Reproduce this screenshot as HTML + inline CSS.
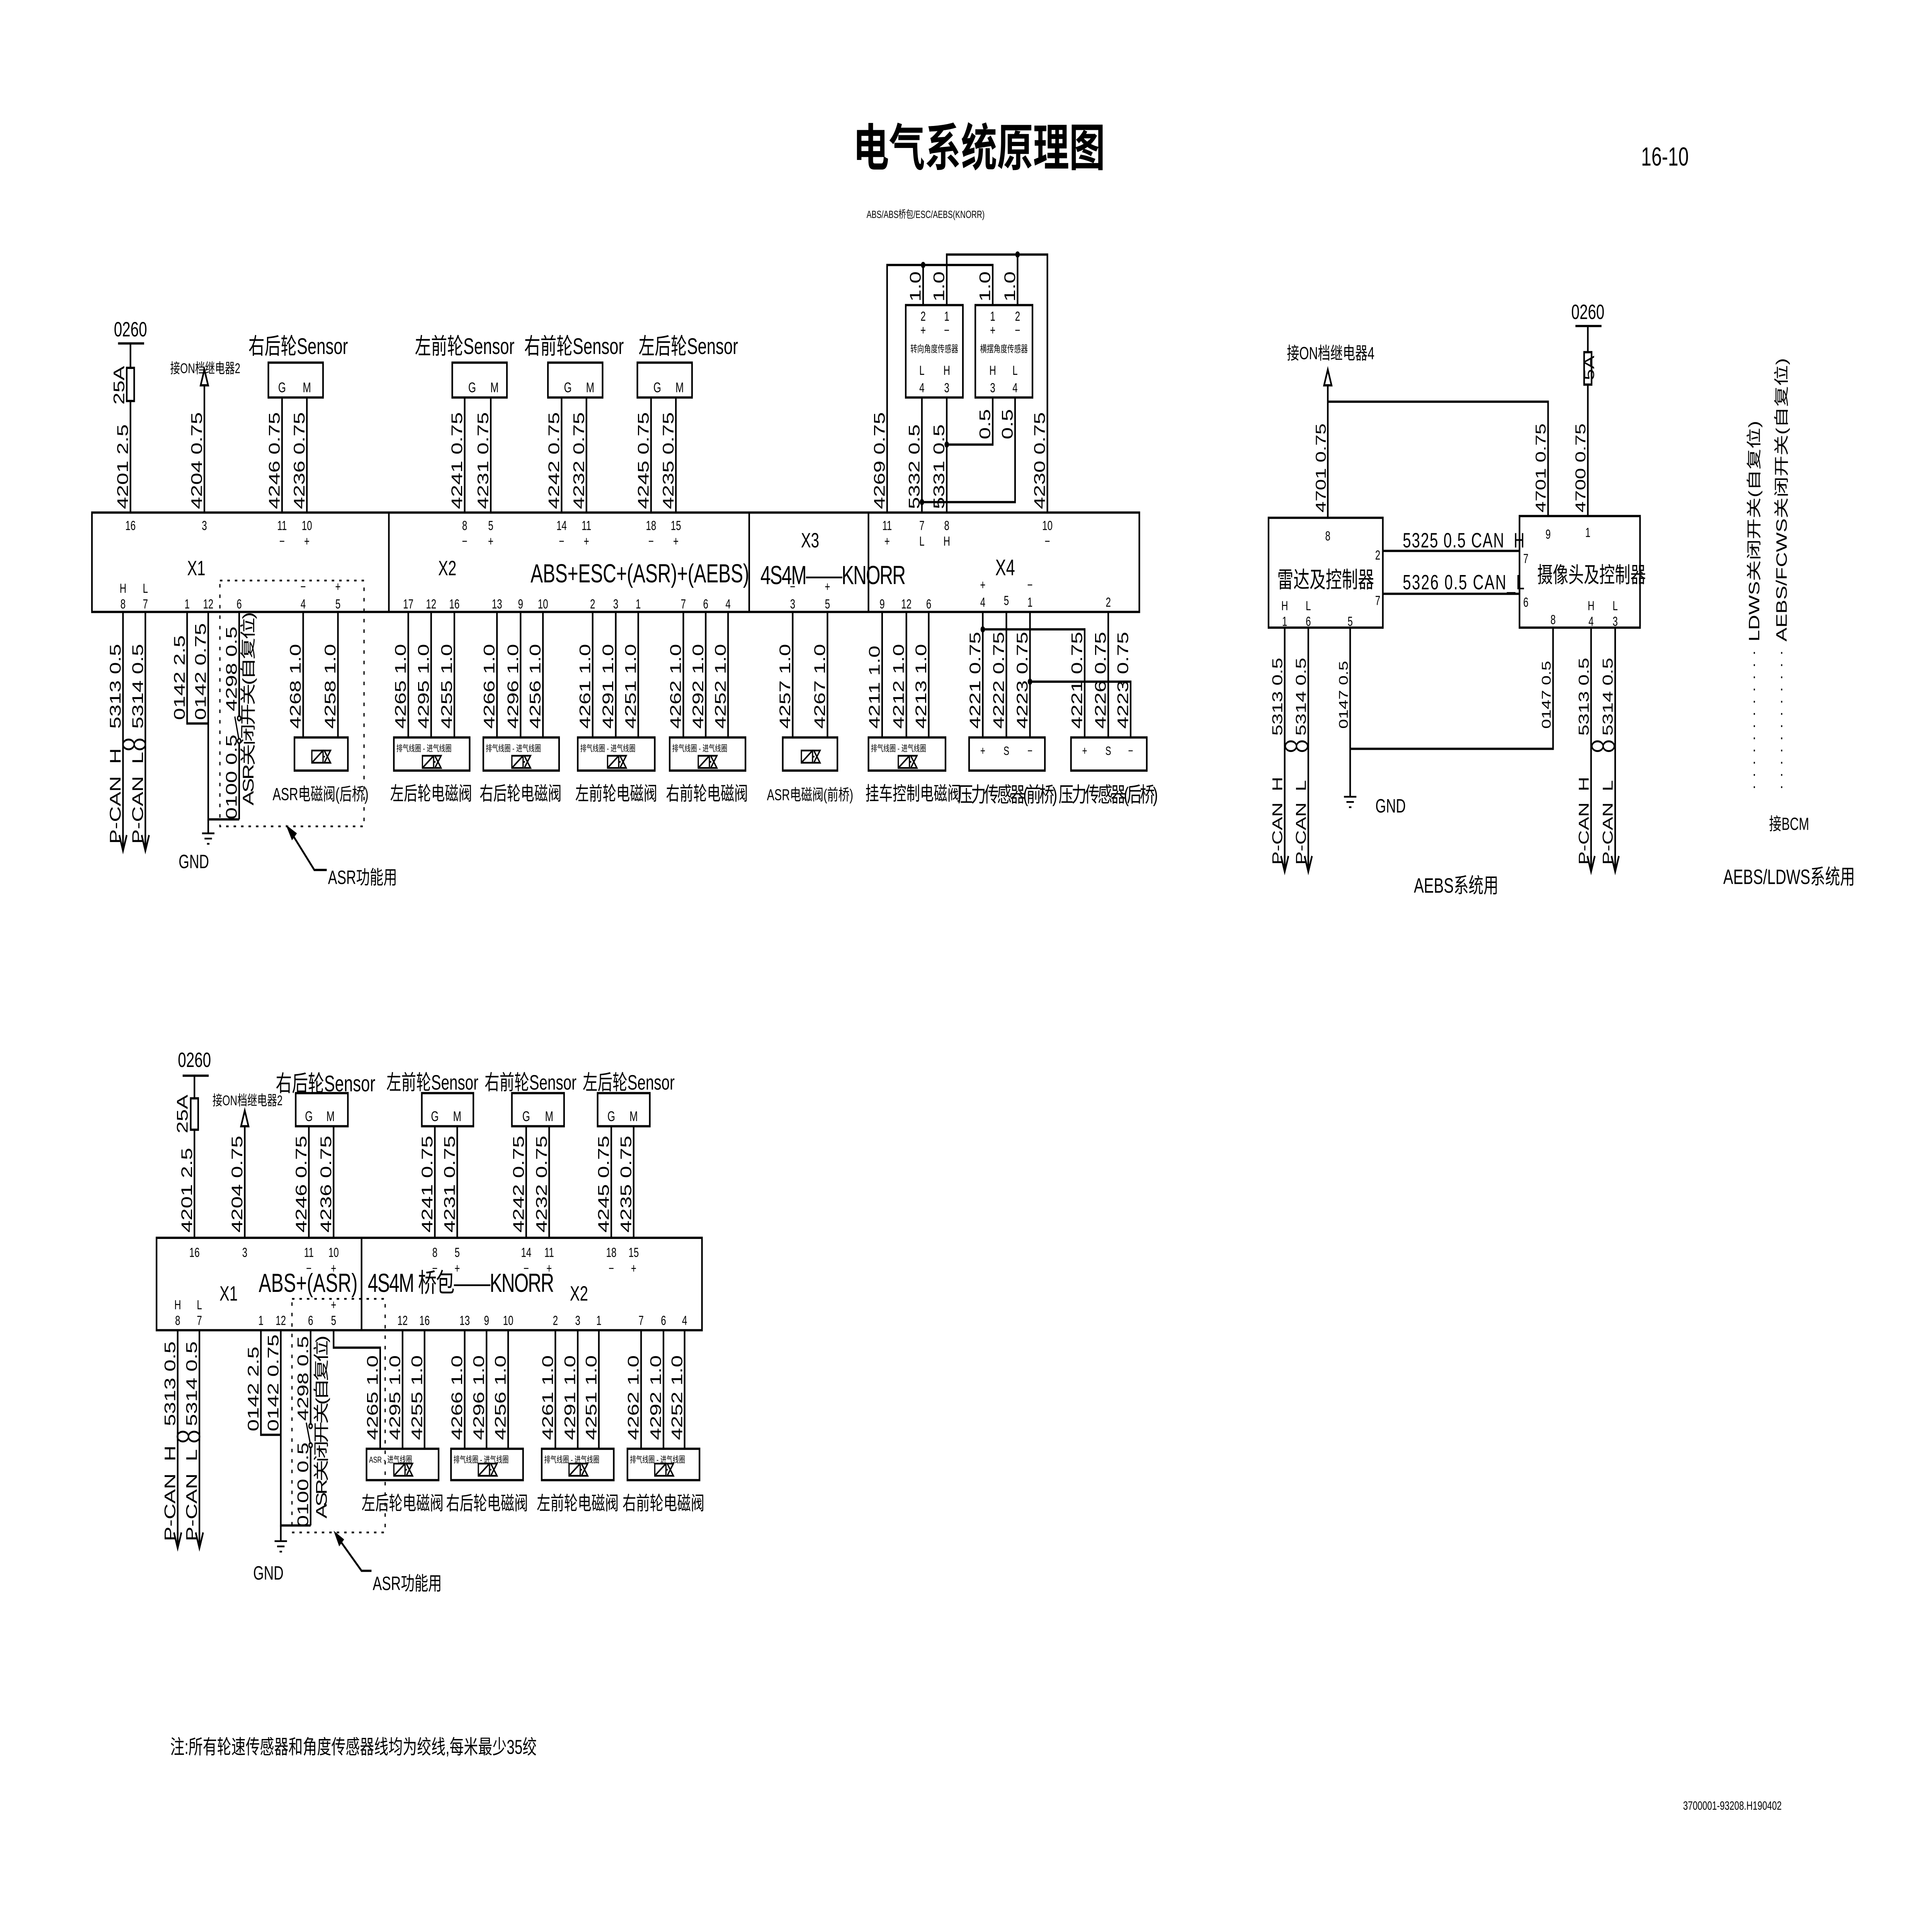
<!DOCTYPE html>
<html><head><meta charset="utf-8"><style>
html,body{margin:0;padding:0;background:#fff;overflow:hidden}
svg{display:block;position:absolute;left:0;top:0;width:100vw;height:100vh}
text{font-family:"Liberation Sans","Noto Sans CJK SC",sans-serif;fill:#000}
.w{font-size:12.5px}
.p{font-size:7.5px;text-anchor:middle}
.s{font-size:13px;text-anchor:middle}
.c{text-anchor:middle}
.t5{font-size:5px}
</style></head><body>
<svg xmlns="http://www.w3.org/2000/svg" viewBox="0 0 1555 1099" preserveAspectRatio="none">
<defs>
<g id="vg"><rect x="-7" y="-3.5" width="9" height="7" fill="none" stroke="#000" stroke-width="1"/><line x1="-7" y1="3.5" x2="2" y2="-3.5" stroke="#000" stroke-width="1"/><path d="M3,-3.5 L8,-3.5 L3,3.5 L8,3.5 Z" fill="none" stroke="#000" stroke-width="1"/><line x1="2" y1="0" x2="3.5" y2="0" stroke="#000"/></g>
<g id="gnd"><line x1="-5" y1="0" x2="5" y2="0"/><line x1="-3" y1="3" x2="3" y2="3"/><line x1="-1" y1="6" x2="1" y2="6"/></g>
<g id="ad"><path d="M-3,-9 L0,0 L3,-9 M0,0 L0,-9" fill="none"/></g>
<g id="au"><path d="M-3,9 L0,0 L3,9 Z" fill="#fff"/></g>
<g id="tw"><ellipse cx="-4.5" cy="0" rx="4.5" ry="2.8" fill="none"/><ellipse cx="4.5" cy="0" rx="4.5" ry="2.8" fill="none"/></g>
</defs>
<g stroke="#000" stroke-width="1.3" fill="none">
<rect x="74" y="294" width="843" height="57"/>
<line x1="313" y1="294" x2="313" y2="351"/><line x1="603" y1="294" x2="603" y2="351"/><line x1="699" y1="294" x2="699" y2="351"/>
<line x1="95" y1="197" x2="116" y2="197"/><line x1="105" y1="197" x2="105" y2="294"/><rect x="102" y="211" width="6" height="19" fill="#fff"/>
<line x1="164.5" y1="212" x2="164.5" y2="294"/><use href="#au" x="164.5" y="212"/>
<rect x="216" y="208" width="44" height="20"/><line x1="227" y1="228" x2="227" y2="294"/><line x1="247" y1="228" x2="247" y2="294"/>
<rect x="364" y="208" width="44" height="20"/><line x1="374" y1="228" x2="374" y2="294"/><line x1="395" y1="228" x2="395" y2="294"/>
<rect x="441" y="208" width="44" height="20"/><line x1="452" y1="228" x2="452" y2="294"/><line x1="472" y1="228" x2="472" y2="294"/>
<rect x="513" y="208" width="44" height="20"/><line x1="524" y1="228" x2="524" y2="294"/><line x1="544" y1="228" x2="544" y2="294"/>
<polyline points="714,294 714,152 799,152 799,175"/><line x1="743" y1="152" x2="743" y2="175"/>
<polyline points="762,175 762,146 843,146 843,294"/><line x1="819" y1="146" x2="819" y2="175"/>
<rect x="729" y="175" width="46" height="53"/><rect x="785" y="175" width="46" height="53"/>
<line x1="742" y1="228" x2="742" y2="294"/><line x1="762" y1="228" x2="762" y2="294"/>
<polyline points="742,288 817,288 817,228"/><polyline points="762,255 799,255 799,228"/>
<line x1="99" y1="351" x2="99" y2="488"/><line x1="117" y1="351" x2="117" y2="488"/>
<use href="#ad" x="99" y="488"/><use href="#ad" x="117" y="488"/><use href="#tw" x="108" y="427" stroke-width="1.1"/>
<polyline points="150.6,351 150.6,415 167.6,415"/><polyline points="167.6,351 167.6,470 192.5,470"/>
<line x1="167.6" y1="470" x2="167.6" y2="478"/><use href="#gnd" x="167.6" y="478" stroke-width="1"/>
<line x1="192.5" y1="351" x2="192.5" y2="411"/><line x1="192.5" y1="425" x2="192.5" y2="470"/><line x1="192.5" y1="425" x2="189" y2="411" stroke-width="1"/>
<rect x="177" y="333" width="116" height="141" stroke-dasharray="2,4" stroke-width="1"/>
<line x1="244" y1="351" x2="244" y2="423"/><line x1="272" y1="351" x2="272" y2="423"/><rect x="237" y="423" width="43" height="19"/>
<line x1="328.6" y1="351" x2="328.6" y2="423"/><line x1="347" y1="351" x2="347" y2="423"/><line x1="365.7" y1="351" x2="365.7" y2="423"/><rect x="317" y="423" width="61" height="19"/>
<line x1="400" y1="351" x2="400" y2="423"/><line x1="419" y1="351" x2="419" y2="423"/><line x1="437" y1="351" x2="437" y2="423"/><rect x="389" y="423" width="61" height="19"/>
<line x1="477" y1="351" x2="477" y2="423"/><line x1="495.6" y1="351" x2="495.6" y2="423"/><line x1="513.7" y1="351" x2="513.7" y2="423"/><rect x="465" y="423" width="62" height="19"/>
<line x1="550" y1="351" x2="550" y2="423"/><line x1="568" y1="351" x2="568" y2="423"/><line x1="586" y1="351" x2="586" y2="423"/><rect x="539" y="423" width="61" height="19"/>
<line x1="638" y1="351" x2="638" y2="423"/><line x1="666" y1="351" x2="666" y2="423"/><rect x="630" y="423" width="44" height="19"/>
<line x1="710" y1="351" x2="710" y2="423"/><line x1="729.5" y1="351" x2="729.5" y2="423"/><line x1="747.5" y1="351" x2="747.5" y2="423"/><rect x="699" y="423" width="62" height="19"/>
<line x1="791" y1="351" x2="791" y2="423"/><line x1="810" y1="351" x2="810" y2="423"/><line x1="829" y1="351" x2="829" y2="423"/><line x1="892" y1="351" x2="892" y2="423"/>
<polyline points="791,361 873,361 873,423"/><polyline points="829,391 910,391 910,423"/>
<rect x="780" y="423" width="61" height="19"/><rect x="862" y="423" width="61" height="19"/>
<polyline points="263,499 253,499 233,476"/>
<rect x="1021" y="297" width="92" height="63"/><rect x="1223" y="296" width="97" height="64"/>
<line x1="1113" y1="316" x2="1223" y2="316"/><line x1="1113" y1="340.6" x2="1223" y2="340.6"/>
<line x1="1068.7" y1="212" x2="1068.7" y2="297"/><use href="#au" x="1068.7" y="212"/>
<polyline points="1068.7,230.4 1246,230.4 1246,296"/>
<line x1="1268" y1="187" x2="1289" y2="187"/><line x1="1278" y1="187" x2="1278" y2="296"/><rect x="1275" y="202" width="6" height="18.6" fill="#fff"/>
<line x1="1034" y1="360" x2="1034" y2="500"/><line x1="1053" y1="360" x2="1053" y2="500"/><use href="#ad" x="1034" y="500"/><use href="#ad" x="1053" y="500"/><use href="#tw" x="1043.5" y="428" stroke-width="1.1"/>
<line x1="1280.6" y1="360" x2="1280.6" y2="500"/><line x1="1300" y1="360" x2="1300" y2="500"/><use href="#ad" x="1280.6" y="500"/><use href="#ad" x="1300" y="500"/><use href="#tw" x="1290.3" y="428" stroke-width="1.1"/>
<polyline points="1086.7,360 1086.7,457"/><polyline points="1086.7,429.5 1250,429.5 1250,360"/><use href="#gnd" x="1086.7" y="457" stroke-width="1"/>
<line x1="1412" y1="374" x2="1412" y2="458" stroke-dasharray="1,6" stroke-width="1"/><line x1="1434" y1="374" x2="1434" y2="458" stroke-dasharray="1,6" stroke-width="1"/>
<rect x="126" y="710" width="439" height="53"/><line x1="291" y1="710" x2="291" y2="763"/>
<line x1="147" y1="617" x2="168" y2="617"/><line x1="156.5" y1="617" x2="156.5" y2="710"/><rect x="153.5" y="630" width="6" height="18" fill="#fff"/>
<line x1="197" y1="637" x2="197" y2="710"/><use href="#au" x="197" y="637"/>
<rect x="238" y="627" width="42" height="19"/><line x1="248.6" y1="646" x2="248.6" y2="710"/><line x1="268.5" y1="646" x2="268.5" y2="710"/>
<rect x="339.5" y="627" width="41.5" height="19"/><line x1="350" y1="646" x2="350" y2="710"/><line x1="368" y1="646" x2="368" y2="710"/>
<rect x="412" y="627" width="42" height="19"/><line x1="423.5" y1="646" x2="423.5" y2="710"/><line x1="442" y1="646" x2="442" y2="710"/>
<rect x="481" y="627" width="42" height="19"/><line x1="492" y1="646" x2="492" y2="710"/><line x1="510" y1="646" x2="510" y2="710"/>
<line x1="143" y1="763" x2="143" y2="888"/><line x1="160.5" y1="763" x2="160.5" y2="888"/><use href="#ad" x="143" y="888"/><use href="#ad" x="160.5" y="888"/><use href="#tw" x="151.7" y="824" stroke-width="1.1"/>
<polyline points="210,763 210,823 226,823"/><polyline points="226,763 226,875 250,875"/><line x1="226" y1="875" x2="226" y2="884"/><use href="#gnd" x="226" y="884" stroke-width="1"/>
<line x1="250" y1="763" x2="250" y2="818"/><line x1="250" y1="829" x2="250" y2="875"/><line x1="250" y1="829" x2="246.5" y2="816" stroke-width="1"/>
<rect x="235" y="745" width="75" height="134" stroke-dasharray="2,4" stroke-width="1"/>
<polyline points="268.5,763 268.5,773 306,773 306,831"/>
<line x1="324" y1="763" x2="324" y2="831"/><line x1="341.7" y1="763" x2="341.7" y2="831"/><rect x="295" y="831" width="58" height="18"/>
<line x1="374" y1="763" x2="374" y2="831"/><line x1="391.6" y1="763" x2="391.6" y2="831"/><line x1="409" y1="763" x2="409" y2="831"/><rect x="363" y="831" width="58" height="18"/>
<line x1="447" y1="763" x2="447" y2="831"/><line x1="465" y1="763" x2="465" y2="831"/><line x1="482" y1="763" x2="482" y2="831"/><rect x="436" y="831" width="58" height="18"/>
<line x1="516" y1="763" x2="516" y2="831"/><line x1="534" y1="763" x2="534" y2="831"/><line x1="551" y1="763" x2="551" y2="831"/><rect x="505" y="831" width="58" height="18"/>
<polyline points="299,901 291,901 272,882"/>
</g>
<g fill="#000">
<circle cx="743" cy="152" r="1.8"/><circle cx="819" cy="146" r="1.8"/><circle cx="742" cy="288" r="1.8"/><circle cx="762" cy="255" r="1.8"/>
<circle cx="791" cy="361" r="1.8"/><circle cx="829" cy="391" r="1.8"/>
<circle cx="192.5" cy="412" r="1.3" fill="#fff" stroke="#000"/><circle cx="192.5" cy="425" r="1.3" fill="#fff" stroke="#000"/>
<circle cx="250" cy="818" r="1.3" fill="#fff" stroke="#000"/><circle cx="250" cy="829" r="1.3" fill="#fff" stroke="#000"/>
<path d="M230,473 L239,478 L235,482 Z"/><path d="M268.5,878 L277,883 L273,887 Z"/>
</g>
<g stroke="#000">
<use href="#vg" x="258" y="434"/><use href="#vg" x="347" y="437"/><use href="#vg" x="419" y="437"/><use href="#vg" x="496" y="437"/><use href="#vg" x="569" y="437"/>
<use href="#vg" x="652" y="434"/><use href="#vg" x="730" y="437"/>
<use href="#vg" x="324" y="843"/><use href="#vg" x="392" y="843"/><use href="#vg" x="465" y="843"/><use href="#vg" x="534" y="843"/>
</g>

<text x="788" y="95" class="c" style="font-size:29px;font-weight:bold">电气系统原理图</text>
<text x="1340" y="95" class="c" style="font-size:15px">16-10</text>
<text x="745" y="125" class="c" style="font-size:6px">ABS/ABS桥包/ESC/AEBS(KNORR)</text>

<text x="105" y="193" class="c" style="font-size:12px">0260</text>
<text x="137" y="214" style="font-size:8px">接ON档继电器2</text>
<text class="s" x="240" y="203">右后轮Sensor</text><text class="s" x="374" y="203">左前轮Sensor</text><text class="s" x="462" y="203">右前轮Sensor</text><text class="s" x="554" y="203">左后轮Sensor</text>
<g style="font-size:8px"><text x="227" y="225" class="c">G</text><text x="247" y="225" class="c">M</text><text x="380" y="225" class="c">G</text><text x="398" y="225" class="c">M</text><text x="457" y="225" class="c">G</text><text x="475" y="225" class="c">M</text><text x="529" y="225" class="c">G</text><text x="547" y="225" class="c">M</text></g>
<g class="w">
<text transform="translate(100,221) rotate(-90)" class="c">25A</text>
<text transform="translate(103,292) rotate(-90)">4201 2.5</text>
<text transform="translate(162.5,292) rotate(-90)">4204 0.75</text>
<text transform="translate(225,292) rotate(-90)">4246 0.75</text><text transform="translate(245,292) rotate(-90)">4236 0.75</text>
<text transform="translate(372,292) rotate(-90)">4241 0.75</text><text transform="translate(393,292) rotate(-90)">4231 0.75</text>
<text transform="translate(450,292) rotate(-90)">4242 0.75</text><text transform="translate(470,292) rotate(-90)">4232 0.75</text>
<text transform="translate(522,292) rotate(-90)">4245 0.75</text><text transform="translate(542,292) rotate(-90)">4235 0.75</text>
<text transform="translate(712,292) rotate(-90)">4269 0.75</text><text transform="translate(740,292) rotate(-90)">5332 0.5</text><text transform="translate(760,292) rotate(-90)">5331 0.5</text>
<text transform="translate(797,252) rotate(-90)">0.5</text><text transform="translate(815,252) rotate(-90)">0.5</text>
<text transform="translate(841,292) rotate(-90)">4230 0.75</text>
<text transform="translate(741,173) rotate(-90)">1.0</text><text transform="translate(760,173) rotate(-90)">1.0</text><text transform="translate(797,173) rotate(-90)">1.0</text><text transform="translate(817,173) rotate(-90)">1.0</text>
<text transform="translate(97,418) rotate(-90)">5313 0.5</text><text transform="translate(115,418) rotate(-90)">5314 0.5</text>
<text transform="translate(97,484) rotate(-90)">P-CAN_H</text><text transform="translate(115,484) rotate(-90)">P-CAN_L</text>
<text transform="translate(148.6,413) rotate(-90)">0142 2.5</text><text transform="translate(165.6,413) rotate(-90)">0142 0.75</text>
<text transform="translate(190.5,408) rotate(-90)">4298 0.5</text><text transform="translate(190.5,470) rotate(-90)">0100 0.5</text>
<text transform="translate(204,462) rotate(-90)" textLength="111">ASR关闭开关(自复位)</text>
<text transform="translate(242,418) rotate(-90)">4268 1.0</text><text transform="translate(270,418) rotate(-90)">4258 1.0</text>
<text transform="translate(326.6,418) rotate(-90)">4265 1.0</text><text transform="translate(345,418) rotate(-90)">4295 1.0</text><text transform="translate(363.7,418) rotate(-90)">4255 1.0</text>
<text transform="translate(398,418) rotate(-90)">4266 1.0</text><text transform="translate(417,418) rotate(-90)">4296 1.0</text><text transform="translate(435,418) rotate(-90)">4256 1.0</text>
<text transform="translate(475,418) rotate(-90)">4261 1.0</text><text transform="translate(493.6,418) rotate(-90)">4291 1.0</text><text transform="translate(511.7,418) rotate(-90)">4251 1.0</text>
<text transform="translate(548,418) rotate(-90)">4262 1.0</text><text transform="translate(566,418) rotate(-90)">4292 1.0</text><text transform="translate(584,418) rotate(-90)">4252 1.0</text>
<text transform="translate(636,418) rotate(-90)">4257 1.0</text><text transform="translate(664,418) rotate(-90)">4267 1.0</text>
<text transform="translate(708,418) rotate(-90)">4211 1.0</text><text transform="translate(727.5,418) rotate(-90)">4212 1.0</text><text transform="translate(745.5,418) rotate(-90)">4213 1.0</text>
<text transform="translate(789,418) rotate(-90)">4221 0.75</text><text transform="translate(808,418) rotate(-90)">4222 0.75</text><text transform="translate(827,418) rotate(-90)">4223 0.75</text>
<text transform="translate(871,418) rotate(-90)">4221 0.75</text><text transform="translate(890,418) rotate(-90)">4226 0.75</text><text transform="translate(908,418) rotate(-90)">4223 0.75</text>
</g>
<g>
<text x="105" y="304" class="p">16</text><text x="164.5" y="304" class="p">3</text><text x="227" y="304" class="p">11</text><text x="247" y="304" class="p">10</text>
<text x="227" y="313" class="p">−</text><text x="247" y="313" class="p">+</text>
<text x="374" y="304" class="p">8</text><text x="395" y="304" class="p">5</text><text x="374" y="313" class="p">−</text><text x="395" y="313" class="p">+</text>
<text x="452" y="304" class="p">14</text><text x="472" y="304" class="p">11</text><text x="452" y="313" class="p">−</text><text x="472" y="313" class="p">+</text>
<text x="524" y="304" class="p">18</text><text x="544" y="304" class="p">15</text><text x="524" y="313" class="p">−</text><text x="544" y="313" class="p">+</text>
<text x="714" y="304" class="p">11</text><text x="742" y="304" class="p">7</text><text x="762" y="304" class="p">8</text><text x="843" y="304" class="p">10</text>
<text x="714" y="313" class="p">+</text><text x="742" y="313" class="p">L</text><text x="762" y="313" class="p">H</text><text x="843" y="313" class="p">−</text>
<text x="99" y="340" class="p">H</text><text x="117" y="340" class="p">L</text><text x="99" y="349" class="p">8</text><text x="117" y="349" class="p">7</text>
<text x="150.6" y="349" class="p">1</text><text x="167.6" y="349" class="p">12</text><text x="192.5" y="349" class="p">6</text><text x="244" y="349" class="p">4</text><text x="272" y="349" class="p">5</text>
<text x="244" y="339" class="p">−</text><text x="272" y="339" class="p">+</text>
<text x="328.6" y="349" class="p">17</text><text x="347" y="349" class="p">12</text><text x="365.7" y="349" class="p">16</text>
<text x="400" y="349" class="p">13</text><text x="419" y="349" class="p">9</text><text x="437" y="349" class="p">10</text>
<text x="477" y="349" class="p">2</text><text x="495.6" y="349" class="p">3</text><text x="513.7" y="349" class="p">1</text>
<text x="550" y="349" class="p">7</text><text x="568" y="349" class="p">6</text><text x="586" y="349" class="p">4</text>
<text x="638" y="339" class="p">−</text><text x="666" y="339" class="p">+</text><text x="638" y="349" class="p">3</text><text x="666" y="349" class="p">5</text>
<text x="710" y="349" class="p">9</text><text x="729.5" y="349" class="p">12</text><text x="747.5" y="349" class="p">6</text>
<text x="791" y="338" class="p">+</text><text x="829" y="338" class="p">−</text><text x="791" y="348" class="p">4</text><text x="810" y="347" class="p">5</text><text x="829" y="348" class="p">1</text><text x="892" y="348" class="p">2</text>
<text x="743" y="184" class="p">2</text><text x="762" y="184" class="p">1</text><text x="743" y="192" class="p">+</text><text x="762" y="192" class="p">−</text>
<text x="742" y="215" class="p">L</text><text x="762" y="215" class="p">H</text><text x="742" y="225" class="p">4</text><text x="762" y="225" class="p">3</text>
<text x="799" y="184" class="p">1</text><text x="819" y="184" class="p">2</text><text x="799" y="192" class="p">+</text><text x="819" y="192" class="p">−</text>
<text x="799" y="215" class="p">H</text><text x="817" y="215" class="p">L</text><text x="799" y="225" class="p">3</text><text x="817" y="225" class="p">4</text>
</g>
<text x="752" y="202" class="c" style="font-size:5.5px">转向角度传感器</text>
<text x="808" y="202" class="c" style="font-size:5.5px">横摆角度传感器</text>
<text x="158" y="330" class="c" style="font-size:12px">X1</text>
<text x="360" y="330" class="c" style="font-size:12px">X2</text>
<text x="515" y="334" class="c" style="font-size:15px" textLength="176">ABS+ESC+(ASR)+(AEBS)</text>
<text x="652" y="314" class="c" style="font-size:12px">X3</text>
<text x="612" y="335" style="font-size:15px" textLength="117">4S4M——KNORR</text>
<text x="809" y="330" class="c" style="font-size:13px">X4</text>
<g class="t5">
<text x="319" y="431">排气线圈 - 进气线圈</text><text x="391" y="431">排气线圈 - 进气线圈</text><text x="467" y="431">排气线圈 - 进气线圈</text><text x="541" y="431">排气线圈 - 进气线圈</text><text x="701" y="431">排气线圈 - 进气线圈</text>
<text x="297" y="839">ASR  -  进气线圈</text><text x="365" y="839">排气线圈 - 进气线圈</text><text x="438" y="839">排气线圈 - 进气线圈</text><text x="507" y="839">排气线圈 - 进气线圈</text>
</g>
<g style="font-size:7px"><text x="791" y="433" class="c">+</text><text x="810" y="433" class="c">S</text><text x="829" y="433" class="c">−</text><text x="873" y="433" class="c">+</text><text x="892" y="433" class="c">S</text><text x="910" y="433" class="c">−</text></g>
<g style="font-size:11px">
<text x="258" y="459" class="c" style="font-size:10px">ASR电磁阀(后桥)</text>
<text x="347" y="459" class="c">左后轮电磁阀</text><text x="419" y="459" class="c">右后轮电磁阀</text><text x="496" y="459" class="c">左前轮电磁阀</text><text x="569" y="459" class="c">右前轮电磁阀</text>
<text x="652" y="459" class="c" style="font-size:9px">ASR电磁阀(前桥)</text>
<text x="735" y="459" class="c">挂车控制电磁阀</text>
<text x="811" y="460" class="c" style="font-size:12px" textLength="80">压力传感器(前桥)</text><text x="892" y="460" class="c" style="font-size:12px" textLength="80">压力传感器(后桥)</text>
<text x="156" y="498" class="c">GND</text>
<text x="264" y="507">ASR功能用</text>
</g>

<text x="1071" y="206" class="c" style="font-size:10px">接ON档继电器4</text>
<text x="1278" y="183" class="c" style="font-size:12px">0260</text>
<g class="w" style="font-size:11.5px">
<text transform="translate(1283,211) rotate(-90)" class="c">5A</text>
<text transform="translate(1067,294) rotate(-90)">4701 0.75</text>
<text transform="translate(1244,294) rotate(-90)">4701 0.75</text>
<text transform="translate(1276,294) rotate(-90)">4700 0.75</text>
<text transform="translate(1032,422) rotate(-90)">5313 0.5</text><text transform="translate(1051,422) rotate(-90)">5314 0.5</text>
<text transform="translate(1032,496) rotate(-90)">P-CAN_H</text><text transform="translate(1051,496) rotate(-90)">P-CAN_L</text>
<text transform="translate(1278.6,422) rotate(-90)">5313 0.5</text><text transform="translate(1298,422) rotate(-90)">5314 0.5</text>
<text transform="translate(1278.6,496) rotate(-90)">P-CAN_H</text><text transform="translate(1298,496) rotate(-90)">P-CAN_L</text>
</g>
<g style="font-size:10px">
<text transform="translate(1084.7,418) rotate(-90)">0147 0.5</text>
<text transform="translate(1248,418) rotate(-90)">0147 0.5</text>
</g>
<text x="1129" y="314" style="font-size:12px" textLength="98">5325 0.5 CAN_H</text>
<text x="1129" y="338" style="font-size:12px" textLength="98">5326 0.5 CAN_L</text>
<text x="1067" y="337" class="c" style="font-size:13px">雷达及控制器</text>
<text x="1281" y="334" class="c" style="font-size:12.5px">摄像头及控制器</text>
<g>
<text x="1068.7" y="310" class="p">8</text><text x="1111" y="321" class="p" style="text-anchor:end">2</text><text x="1111" y="347" class="p" style="text-anchor:end">7</text>
<text x="1034" y="350" class="p">H</text><text x="1053" y="350" class="p">L</text><text x="1034" y="359" class="p">1</text><text x="1053" y="359" class="p">6</text><text x="1086.7" y="359" class="p">5</text>
<text x="1246" y="309" class="p">9</text><text x="1278" y="308" class="p">1</text><text x="1226" y="323" class="p" style="text-anchor:start">7</text><text x="1226" y="348" class="p" style="text-anchor:start">6</text>
<text x="1250" y="358" class="p">8</text><text x="1280.6" y="350" class="p">H</text><text x="1300" y="350" class="p">L</text><text x="1280.6" y="359" class="p">4</text><text x="1300" y="359" class="p">3</text>
</g>
<text x="1107" y="466" style="font-size:11px">GND</text>
<text x="1172" y="512" class="c" style="font-size:12px">AEBS系统用</text>
<text transform="translate(1416,368) rotate(-90)" style="font-size:12px">LDWS关闭开关(自复位)</text>
<text transform="translate(1438,368) rotate(-90)" style="font-size:12px">AEBS/FCWS关闭开关(自复位)</text>
<text x="1440" y="476" class="c" style="font-size:10px">接BCM</text>
<text x="1440" y="507" class="c" style="font-size:12px">AEBS/LDWS系统用</text>

<text x="156.5" y="612" class="c" style="font-size:12px">0260</text>
<text x="171" y="634" style="font-size:8px">接ON档继电器2</text>
<text class="s" x="262" y="626">右后轮Sensor</text><text class="s" x="348" y="625" style="font-size:12px">左前轮Sensor</text><text class="s" x="427" y="625" style="font-size:12px">右前轮Sensor</text><text class="s" x="506" y="625" style="font-size:12px">左后轮Sensor</text>
<g style="font-size:8px"><text x="248.6" y="643" class="c">G</text><text x="266" y="643" class="c">M</text><text x="350" y="643" class="c">G</text><text x="368" y="643" class="c">M</text><text x="423.5" y="643" class="c">G</text><text x="442" y="643" class="c">M</text><text x="492" y="643" class="c">G</text><text x="510" y="643" class="c">M</text></g>
<g class="w">
<text transform="translate(151,639) rotate(-90)" class="c">25A</text>
<text transform="translate(154.5,707) rotate(-90)">4201 2.5</text>
<text transform="translate(195,707) rotate(-90)">4204 0.75</text>
<text transform="translate(246.6,707) rotate(-90)">4246 0.75</text><text transform="translate(266.5,707) rotate(-90)">4236 0.75</text>
<text transform="translate(348,707) rotate(-90)">4241 0.75</text><text transform="translate(366,707) rotate(-90)">4231 0.75</text>
<text transform="translate(421.5,707) rotate(-90)">4242 0.75</text><text transform="translate(440,707) rotate(-90)">4232 0.75</text>
<text transform="translate(490,707) rotate(-90)">4245 0.75</text><text transform="translate(508,707) rotate(-90)">4235 0.75</text>
<text transform="translate(141,818) rotate(-90)">5313 0.5</text><text transform="translate(158.5,818) rotate(-90)">5314 0.5</text>
<text transform="translate(141,884) rotate(-90)">P-CAN_H</text><text transform="translate(158.5,884) rotate(-90)">P-CAN_L</text>
<text transform="translate(208,821) rotate(-90)">0142 2.5</text><text transform="translate(224,821) rotate(-90)">0142 0.75</text>
<text transform="translate(248,815) rotate(-90)">4298 0.5</text><text transform="translate(248,876) rotate(-90)">0100 0.5</text>
<text transform="translate(263,871) rotate(-90)" textLength="105">ASR关闭开关(自复位)</text>
<text transform="translate(304,826) rotate(-90)">4265 1.0</text><text transform="translate(322,826) rotate(-90)">4295 1.0</text><text transform="translate(339.7,826) rotate(-90)">4255 1.0</text>
<text transform="translate(372,826) rotate(-90)">4266 1.0</text><text transform="translate(389.6,826) rotate(-90)">4296 1.0</text><text transform="translate(407,826) rotate(-90)">4256 1.0</text>
<text transform="translate(445,826) rotate(-90)">4261 1.0</text><text transform="translate(463,826) rotate(-90)">4291 1.0</text><text transform="translate(480,826) rotate(-90)">4251 1.0</text>
<text transform="translate(514,826) rotate(-90)">4262 1.0</text><text transform="translate(532,826) rotate(-90)">4292 1.0</text><text transform="translate(549,826) rotate(-90)">4252 1.0</text>
</g>
<g>
<text x="156.5" y="721" class="p">16</text><text x="197" y="721" class="p">3</text><text x="248.6" y="721" class="p">11</text><text x="268.5" y="721" class="p">10</text>
<text x="248.6" y="730" class="p">−</text><text x="268.5" y="730" class="p">+</text>
<text x="350" y="721" class="p">8</text><text x="368" y="721" class="p">5</text><text x="350" y="730" class="p">−</text><text x="368" y="730" class="p">+</text>
<text x="423.5" y="721" class="p">14</text><text x="442" y="721" class="p">11</text><text x="423.5" y="730" class="p">−</text><text x="442" y="730" class="p">+</text>
<text x="492" y="721" class="p">18</text><text x="510" y="721" class="p">15</text><text x="492" y="730" class="p">−</text><text x="510" y="730" class="p">+</text>
<text x="143" y="751" class="p">H</text><text x="160.5" y="751" class="p">L</text><text x="143" y="760" class="p">8</text><text x="160.5" y="760" class="p">7</text>
<text x="210" y="760" class="p">1</text><text x="226" y="760" class="p">12</text><text x="250" y="760" class="p">6</text><text x="268.5" y="760" class="p">5</text><text x="268.5" y="751" class="p">+</text>
<text x="324" y="760" class="p">12</text><text x="341.7" y="760" class="p">16</text>
<text x="374" y="760" class="p">13</text><text x="391.6" y="760" class="p">9</text><text x="409" y="760" class="p">10</text>
<text x="447" y="760" class="p">2</text><text x="465" y="760" class="p">3</text><text x="482" y="760" class="p">1</text>
<text x="516" y="760" class="p">7</text><text x="534" y="760" class="p">6</text><text x="551" y="760" class="p">4</text>
</g>
<text x="184" y="746" class="c" style="font-size:12px">X1</text>
<text x="248" y="741" class="c" style="font-size:15px">ABS+(ASR)</text>
<text x="296" y="741" style="font-size:15px" textLength="150">4S4M 桥包——KNORR</text>
<text x="466" y="746" class="c" style="font-size:12px">X2</text>
<g style="font-size:11px">
<text x="324" y="866" class="c">左后轮电磁阀</text><text x="392" y="866" class="c">右后轮电磁阀</text><text x="465" y="866" class="c">左前轮电磁阀</text><text x="534" y="866" class="c">右前轮电磁阀</text>
<text x="216" y="906" class="c">GND</text>
<text x="300" y="912">ASR功能用</text>
</g>
<text x="137" y="1006" style="font-size:11.5px">注:所有轮速传感器和角度传感器线均为绞线,每米最少35绞</text>
<text x="1434" y="1038" style="font-size:7px;text-anchor:end">3700001-93208.H190402</text>
</svg>
</body></html>
